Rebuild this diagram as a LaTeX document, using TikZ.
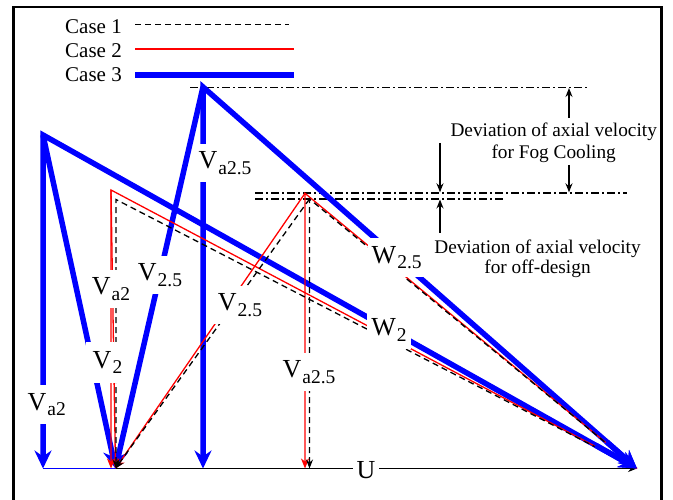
\documentclass[tikz,border=0pt]{standalone}
\usepackage{fontspec}
\setmainfont{Liberation Serif}
\usetikzlibrary{arrows.meta,calc}
\definecolor{pblue}{RGB}{0,0,255}
\definecolor{pred}{RGB}{255,0,0}
\newcommand\vlab[2]{{\fontsize{26}{26}\selectfont #1}\kern1pt\raisebox{-5.5pt}{\fontsize{19.5}{19.5}\selectfont #2}}
\begin{document}
\begin{tikzpicture}[x=1pt,y=-1pt,
  bl/.style={draw=pblue,line width=5.5pt,line join=miter},
  rd/.style={draw=pred,line width=1.3pt,line join=miter},
  bk/.style={draw=black,line width=1.3pt,dash pattern=on 6pt off 4pt},
  dd/.style={draw=black,line width=1.3pt,dash pattern=on 8pt off 3pt on 2pt off 3pt},
  btip/.tip={Stealth[length=18pt,width=17pt,inset=6pt]},
  rtip/.tip={Stealth[length=10pt,width=8pt,inset=3pt]},
  ktip/.tip={Stealth[length=9pt,width=7pt,inset=3pt]},
  lab/.style={fill=white,inner xsep=4pt,inner ysep=8pt},
  legtxt/.style={anchor=base west,font=\fontsize{21}{21}\selectfont,inner sep=0pt},
  devtxt/.style={anchor=base,font=\fontsize{19.3}{21}\selectfont,inner sep=0pt},
]
\useasboundingbox (0,0) rectangle (673,500);
\begin{scope}
\clip (0,0) rectangle (673,500);
\draw[line width=2.5pt] (13.5,506) -- (13.5,7) -- (661.5,7) -- (661.5,506);
\end{scope}

% legend
\node[legtxt] (c1) at (65,33.5) {Case 1};
\node[legtxt] (c2) at (65,57.5) {Case 2};
\node[legtxt] (c3) at (65,82) {Case 3};
\coordinate (l1a) at (135,24.7); \coordinate (l1b) at (289,24.7);
\coordinate (l2a) at (135,49); \coordinate (l2b) at (294,49);
\coordinate (l3a) at (135,74.7); \coordinate (l3b) at (294,74.7);
\draw[bk,line width=1.5pt] (l1a) -- (l1b);
\draw[draw=pred,line width=1.7pt] (l2a) -- (l2b);
\draw[draw=pblue,line width=6pt] (l3a) -- (l3b);

% key points
\coordinate (B2) at (43,135);
\coordinate (B25) at (203,87);
\coordinate (R2) at (111,190);
\coordinate (R25) at (305,193.3);
\coordinate (K2) at (116,199.5);
\coordinate (K25) at (309.5,199);
\coordinate (O) at (115.5,468.5);
\coordinate (E) at (637,468.5);
\coordinate (Ba) at (43,468.5);
\coordinate (B25a) at (203,468.5);
\coordinate (R2a) at (111,468.5);
\coordinate (R25a) at (305,468.5);
\coordinate (K2a) at (116,468.5);
\coordinate (K25a) at (309.5,468.5);

% dash-dot reference lines
\coordinate (d1a) at (190,87.3); \coordinate (d1b) at (588,87.3);
\coordinate (d2a) at (255,193); \coordinate (d2b) at (627,193);
\coordinate (d3a) at (255,199); \coordinate (d3b) at (503,199);
\draw[dd] (d1a) -- (d1b);
\draw[dd] (d2a) -- (d2b);
\draw[dd] (d3a) -- (d3b);

% baseline U
\draw[line width=1.5pt,-{ktip}] (O) -- (E);
\draw[draw=pblue,line width=1.5pt] (Ba) -- (O);

% case 3 (blue)
\draw[bl,{btip}-{btip}] (Ba) -- (B2) -- (E);
\draw[bl,-{btip}] (B2) -- (O);
\draw[bl,{btip}-{btip}] (B25a) -- (B25) -- (E);
\draw[bl,-{btip}] (B25) -- (O);

% case 2 (red)
\draw[rd,{rtip}-] (R2a) -- (R2) -- (E);
\draw[rd,-{rtip}] (R2) -- (O);
\draw[rd,{rtip}-] (R25a) -- (R25) -- (E);
\draw[rd,-{rtip}] (R25) -- (O);

% case 1 (black dashed)
\draw[bk,{ktip}-] (K2a) -- (K2) -- (E);
\draw[bk,{ktip}-] (K25a) -- (K25) -- (E);
\draw[bk,-{ktip}] (K25) -- (O);

% blue tips on top at E
\draw[bl,-{btip}] ($(B2)!0.93!(E)$) -- (E);
\draw[bl,-{btip}] ($(B25)!0.93!(E)$) -- (E);

% deviation arrows
\coordinate (fa1) at (569,118); \coordinate (fa2) at (569,88);
\coordinate (fb1) at (569,165); \coordinate (fb2) at (569,192.3);
\coordinate (oa1) at (440,143); \coordinate (oa2) at (440,192.3);
\coordinate (ob1) at (440,233); \coordinate (ob2) at (440,199.5);
\draw[line width=1.3pt,-{ktip}] (fa1) -- (fa2);
\draw[line width=1.3pt,-{ktip}] (fb1) -- (fb2);
\draw[line width=1.3pt,-{ktip}] (oa1) -- (oa2);
\draw[line width=1.3pt,-{ktip}] (ob1) -- (ob2);
\node[devtxt] (f1) at (553.7,136.7) {Deviation of axial velocity};
\node[devtxt] (f2) at (553.7,158.3) {for Fog Cooling};
\node[devtxt] (o1) at (537.5,253.3) {Deviation of axial velocity};
\node[devtxt] (o2) at (537.5,273.8) {for off-design};

% labels
\node[lab] (tVa25) at (225,163) {\vlab{V}{a2.5}};
\node[lab] (tVa2L) at (46.7,404.5) {\vlab{V}{a2}};
\node[lab] (tVa2M) at (111,289) {\vlab{V}{a2}};
\node[lab,inner xsep=7pt,inner ysep=9pt] (tV2) at (107.5,362.5) {\vlab{V}{2}};
\node[lab] (tV25B) at (160,275) {\vlab{V}{2.5}};
\node[lab] (tV25R) at (240,305) {\vlab{V}{2.5}};
\node[lab] (tVa25R) at (309,372) {\vlab{V}{a2.5}};
\node[lab] (tW25) at (396.7,257.5) {\vlab{W}{2.5}};
\node[lab] (tW2) at (389,330) {\vlab{W}{2}};
\node[lab,inner ysep=2pt] (tU) at (366,470) {\fontsize{26}{26}\selectfont U};
\end{tikzpicture}
\end{document}
